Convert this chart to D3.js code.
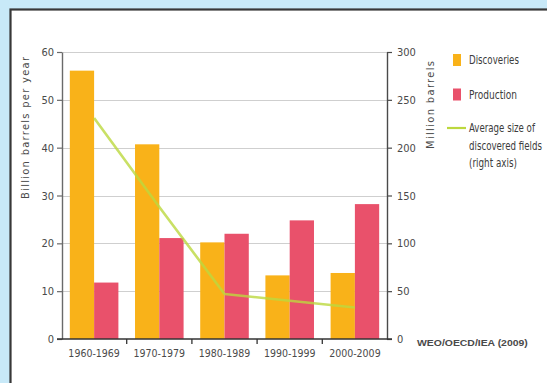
<!DOCTYPE html>
<html>
<head>
<meta charset="utf-8">
<script src="https://cdn.jsdelivr.net/npm/d3@7/dist/d3.min.js"></script>
<style>
  html, body { margin: 0; padding: 0; background: #c8e9f8; }
  svg { display: block; }
</style>
</head>
<body>
<svg id="chart" width="547" height="383"></svg>
<script>
// Decades on the horizontal axis
const periods = ["1960-1969", "1970-1979", "1980-1989", "1990-1999", "2000-2009"];
// Billion barrels per year (left axis)
const discoveries = [56.1, 40.7, 20.2, 13.3, 13.8];
const production = [11.8, 21.1, 22.0, 24.8, 28.2];
// Average size of discovered fields, million barrels (right axis)
const avgFieldSize = [231, 138, 47, 40, 33];
// Axis ticks
const leftTicks = [0, 10, 20, 30, 40, 50, 60];
const rightTicks = [0, 50, 100, 150, 200, 250, 300];
const seriesNames = ["Discoveries", "Production"];
const lineLegend = ["Average size of", "discovered fields", "(right axis)"];
const source = "WEO/OECD/IEA (2009)";

const colors = { Discoveries: "#f9b219", Production: "#e9516b", line: "#bcd83e" };
const fontNarrow = '"Liberation Sans Narrow", "DejaVu Sans Condensed", "Arial Narrow", sans-serif';

const svg = d3.select("#chart");

// White panel with dark frame
svg.append("rect")
  .attr("x", 10.5).attr("y", 9.5)
  .attr("width", 620).attr("height", 420)
  .attr("fill", "#ffffff")
  .attr("stroke", "#383838").attr("stroke-width", 2.2);

const plot = { left: 62, right: 387, top: 52, bottom: 339 };

const x = d3.scaleBand()
  .domain(periods)
  .range([plot.left, plot.right])
  .paddingInner(0.255)
  .paddingOuter(0.12);

const xSub = d3.scaleBand()
  .domain(seriesNames)
  .range([0, x.bandwidth()]);

const yL = d3.scaleLinear().domain([0, 60]).range([plot.bottom, plot.top]);
const yR = d3.scaleLinear().domain([0, 300]).range([plot.bottom, plot.top]);

// Horizontal grid
svg.append("g")
  .selectAll("line")
  .data(leftTicks.filter(d => d > 0))
  .join("line")
  .attr("x1", plot.left).attr("x2", plot.right)
  .attr("y1", d => Math.round(yL(d)) + 0.5).attr("y2", d => Math.round(yL(d)) + 0.5)
  .attr("stroke", "#cfcfcf").attr("stroke-width", 1.2);

// Bars
const rows = periods.map((p, i) => ({ period: p, Discoveries: discoveries[i], Production: production[i] }));
svg.append("g")
  .selectAll("g")
  .data(rows)
  .join("g")
  .attr("transform", d => `translate(${x(d.period)},0)`)
  .selectAll("rect")
  .data(d => seriesNames.map(k => ({ key: k, value: d[k] })))
  .join("rect")
  .attr("x", d => xSub(d.key))
  .attr("width", xSub.bandwidth())
  .attr("y", d => yL(d.value))
  .attr("height", d => yL(0) - yL(d.value))
  .attr("fill", d => colors[d.key]);

// Average field size line (right axis)
const line = d3.line()
  .x((d, i) => x(periods[i]) + x.bandwidth() / 2)
  .y(d => yR(d));
svg.append("path")
  .datum(avgFieldSize)
  .attr("d", line)
  .attr("fill", "none")
  .attr("stroke", colors.line)
  .attr("stroke-width", 2.6)
  .attr("stroke-opacity", 0.8)
  .attr("stroke-linejoin", "round");

// Left axis
const axL = svg.append("g")
  .attr("transform", `translate(${plot.left},0)`)
  .call(d3.axisLeft(yL).tickValues(leftTicks).tickSize(5).tickPadding(3).tickSizeOuter(0));
axL.select(".domain").attr("stroke", "#6a6a6a").attr("stroke-width", 1.4);
axL.selectAll(".tick line").attr("stroke", "#6a6a6a").attr("stroke-width", 1.2);
axL.selectAll(".tick text")
  .attr("font-family", fontNarrow).attr("font-size", 11).attr("fill", "#4a4a4a");

// Right axis
const axR = svg.append("g")
  .attr("transform", `translate(${plot.right},0)`)
  .call(d3.axisRight(yR).tickValues(rightTicks).tickSize(5).tickPadding(5).tickSizeOuter(0));
axR.select(".domain").attr("stroke", "#4a4a4a").attr("stroke-width", 1.4);
axR.selectAll(".tick line").attr("stroke", "#4a4a4a").attr("stroke-width", 1.2);
axR.selectAll(".tick text")
  .attr("font-family", fontNarrow).attr("font-size", 11).attr("fill", "#4a4a4a");

// Bottom axis: labels centred on each decade, ticks between decades
const axB = svg.append("g")
  .attr("transform", `translate(0,${plot.bottom})`)
  .call(d3.axisBottom(x).tickSize(0).tickPadding(11));
axB.select(".domain").remove();
axB.selectAll(".tick text")
  .attr("font-family", fontNarrow).attr("font-size", 10.5).attr("fill", "#4a4a4a");
axB.append("line")
  .attr("x1", plot.left - 5).attr("x2", plot.right + 5)
  .attr("y1", 0).attr("y2", 0)
  .attr("stroke", "#333").attr("stroke-width", 1.6);
const gap = x.step() * x.paddingInner() / 2;
axB.selectAll(".sep")
  .data(periods.slice(1))
  .join("line")
  .attr("class", "sep")
  .attr("x1", d => x(d) - gap).attr("x2", d => x(d) - gap)
  .attr("y1", 0).attr("y2", 5)
  .attr("stroke", "#333").attr("stroke-width", 1.3);

// Axis titles
svg.append("text")
  .attr("transform", "translate(25.5,128) rotate(-90)")
  .attr("text-anchor", "middle").attr("dy", "0.35em")
  .attr("font-family", fontNarrow).attr("font-size", 11).attr("fill", "#4a4a4a")
  .attr("textLength", 142).attr("lengthAdjust", "spacing")
  .text("Billion barrels per year");
svg.append("text")
  .attr("transform", "translate(430.5,105) rotate(-90)")
  .attr("text-anchor", "middle").attr("dy", "0.35em")
  .attr("font-family", fontNarrow).attr("font-size", 11).attr("fill", "#4a4a4a")
  .attr("textLength", 88).attr("lengthAdjust", "spacing")
  .text("Million barrels");

// Legend: condensed labels, squeezed horizontally to their set widths
const legend = svg.append("g").attr("font-family", fontNarrow).attr("font-size", 12).attr("fill", "#3c3c3c");
function legendLabel(text, y, width) {
  const g = legend.append("g");
  const t = g.append("text").attr("dy", "0.35em").text(text);
  const natural = t.node().getComputedTextLength();
  const s = Math.min(1, width / natural);
  g.attr("transform", `translate(469,${y}) scale(${s},1)`);
}
seriesNames.forEach((k, i) => {
  const cy = 60 + i * 34.5;
  legend.append("rect")
    .attr("x", 453).attr("y", cy - 6).attr("width", 8).attr("height", 12)
    .attr("fill", colors[k]);
  legendLabel(k, cy, i === 0 ? 50 : 48);
});
legend.append("line")
  .attr("x1", 447).attr("x2", 466).attr("y1", 128).attr("y2", 128)
  .attr("stroke", colors.line).attr("stroke-width", 2.2);
const lens = [66, 73, 48];
lineLegend.forEach((t, i) => legendLabel(t, 128 + i * 17.5, lens[i]));

// Source note
const src = svg.append("g");
const srcText = src.append("text")
  .attr("dy", "0.35em")
  .attr("font-family", "Liberation Sans, Arial, sans-serif")
  .attr("font-size", 8.5).attr("font-weight", "bold").attr("fill", "#4a4a4a")
  .text(source);
const srcScale = 111 / srcText.node().getComputedTextLength();
src.attr("transform", `translate(417,343) scale(${srcScale},1)`);
</script>
</body>
</html>
